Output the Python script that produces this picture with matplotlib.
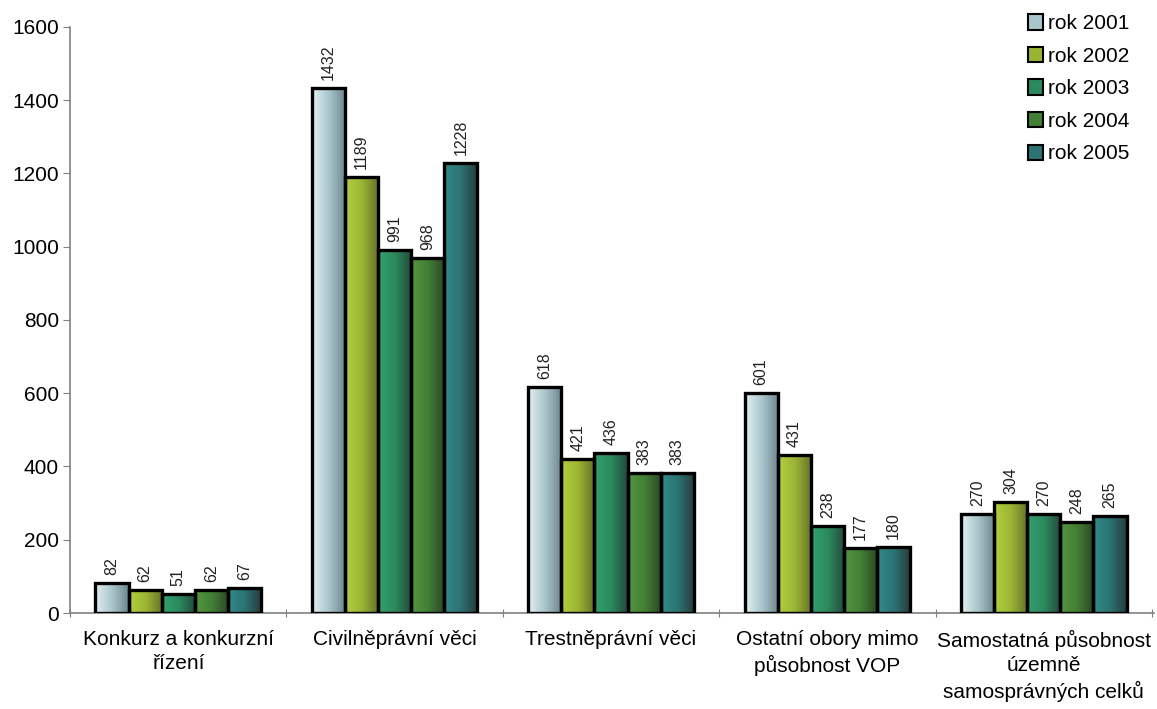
import numpy as np
import matplotlib.pyplot as plt
from matplotlib.colors import LinearSegmentedColormap

categories = ["Konkurz a konkurzní\nřízení", "Civilněprávní věci", "Trestněprávní věci",
              "Ostatní obory mimo\npůsobnost VOP",
              "Samostatná působnost\núzemně\nsamosprávných celků"]
years = ["rok 2001", "rok 2002", "rok 2003", "rok 2004", "rok 2005"]
values = {
    "rok 2001": [82, 1432, 618, 601, 270],
    "rok 2002": [62, 1189, 421, 431, 304],
    "rok 2003": [51, 991, 436, 238, 270],
    "rok 2004": [62, 968, 383, 177, 248],
    "rok 2005": [67, 1228, 383, 180, 265],
}
# light -> dark shading across each bar
shades = {
    "rok 2001": ("#e4eff2", "#a9c6cc", "#6d878c"),
    "rok 2002": ("#b4cf3e", "#9ab534", "#66722a"),
    "rok 2003": ("#33a070", "#2a8a5e", "#24493c"),
    "rok 2004": ("#56963f", "#427f34", "#2c4626"),
    "rok 2005": ("#348a8a", "#2b7373", "#293a3b"),
}

plt.rcParams['font.family'] = ['Liberation Sans', 'DejaVu Sans']
fig = plt.figure(figsize=(11.57, 7.09), dpi=100)
ax = fig.add_axes([0.0605, 0.1354, 0.937, 0.8266])

x = np.arange(len(categories))
w = 0.153
grad = np.linspace(0, 1, 64).reshape(1, -1)

for i, yr in enumerate(years):
    cmap = LinearSegmentedColormap.from_list(yr, shades[yr])
    pos = x + (i - 2) * w
    bars = ax.bar(pos, values[yr], w, facecolor="none", edgecolor="black",
                  linewidth=2.4, zorder=3)
    for b, v in zip(bars, values[yr]):
        im = ax.imshow(grad, cmap=cmap, aspect="auto", zorder=2,
                       extent=[b.get_x(), b.get_x() + w, 0, v])
        im.set_clip_path(b)
        ax.text(b.get_x() + w / 2, v + 22, str(v), rotation=90, ha="center",
                va="bottom", fontsize=11.5, color="#222222")

# legend swatches use the middle shade
handles = [plt.Rectangle((0, 0), 1, 1, facecolor=shades[yr][1], edgecolor="black",
                         linewidth=1.5) for yr in years]
ax.legend(handles, years, loc="upper right", bbox_to_anchor=(0.993, 1.05), frameon=False,
          fontsize=15, handlelength=0.75, handleheight=0.75, handletextpad=0.25,
          labelspacing=0.65, borderpad=0.3)

edges = np.arange(-0.5, len(categories))
ax.set_xlim(-0.5, len(categories) - 0.49)
ax.set_ylim(0, 1600)
ax.set_yticks(range(0, 1601, 200))
ax.set_xticks(edges, labels=[""] * len(edges))
ax.set_xticks(x, labels=categories, minor=True)
ax.tick_params(axis="x", which="minor", length=0, labelsize=15, pad=12)
ax.tick_params(axis="x", which="major", length=6, direction="inout", color="#808080")
ax.tick_params(axis="y", length=5, color="#808080", labelsize=15, pad=3)
for lbl in ax.get_xticklabels(minor=True):
    lbl.set_linespacing(1.35)
for s in ["top", "right"]:
    ax.spines[s].set_visible(False)
for s in ["left", "bottom"]:
    ax.spines[s].set_color("#808080")
    ax.spines[s].set_linewidth(1.2)

fig.savefig("out.png", dpi=100)
